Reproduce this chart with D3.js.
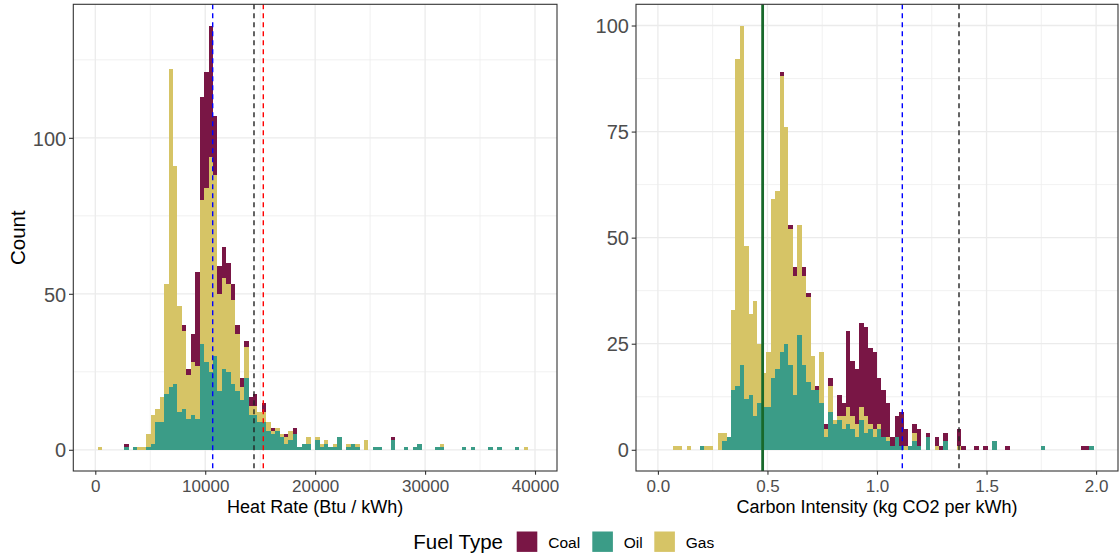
<!DOCTYPE html>
<html>
<head>
<meta charset="utf-8">
<script src="https://cdn.jsdelivr.net/npm/d3@7"></script>
<style>
  body { margin: 0; background: #fff; }
  svg text { font-family: "Liberation Sans", Arial, sans-serif; }
</style>
</head>
<body>
<svg id="chart" width="1119" height="558"></svg>
<script>
// ---------- data: counts per bin ----------
var fuels = ["Coal", "Oil", "Gas"];
var stackOrder = ["Oil", "Gas", "Coal"]; // bottom to top

// Heat rate: 100 bins over 0..40000 (bin k centred at k * 40000 / 99)
var hrLimits = [0, 40000];
var hrCoal = [
  0,0,0,0,0,0,0,1,0,0,
  0,0,0,0,0,0,0,0,0,0,
  2,2,9,30,33,37,42,19,9,10,
  7,5,3,3,2,3,4,0,3,0,
  1,0,0,1,0,2,0,0,0,0,
  0,0,0,0,0,0,0,0,0,0,
  0,0,0,0,0,0,0,1,0,0,
  0,0,0,0,0,0,0,0,0,0,
  0,0,0,0,0,0,0,0,0,0,
  0,0,0,0,0,0,0,0,0,0];
var hrOil = [
  0,0,0,0,0,0,0,1,0,1,
  0,0,1,2,9,9,18,20,21,12,
  13,10,11,10,34,28,25,30,19,26,
  25,21,19,16,23,11,11,9,9,6,
  5,6,4,2,3,5,1,2,2,0,
  3,1,2,1,1,4,0,1,2,1,
  0,0,0,1,1,0,0,3,0,0,
  1,0,1,2,0,0,0,1,1,0,
  0,0,0,1,0,1,0,0,0,1,
  0,1,0,0,0,1,0,0,0,0];
var hrGas = [
  0,1,0,0,0,0,0,0,0,0,
  1,1,4,9,4,8,35,102,70,34,
  25,14,17,17,46,56,69,58,31,29,
  28,27,18,4,10,3,3,3,3,3,
  1,1,1,2,3,0,0,0,2,0,
  1,1,1,0,1,0,0,1,0,1,
  0,3,0,0,0,0,0,0,0,0,
  0,0,0,0,0,0,0,0,1,0,
  0,0,0,0,0,0,0,0,0,0,
  0,0,0,0,0,0,0,1,0,0];
var hrTicks = [0, 10000, 20000, 30000, 40000];
var hrCountTicks = [0, 50, 100];
var hrRefValues = [10680, 14437, 15283];

// Carbon intensity: 100 bins over 0..2 (bin k centred at k * 2 / 99)
var ciLimits = [0, 2];
var ciCoal = [
  0,0,0,0,0,0,0,0,0,0,
  0,0,0,0,0,0,0,0,0,0,
  0,0,0,0,0,0,0,0,1,0,
  1,2,0,2,1,0,1,0,1,2,
  0,5,3,18,13,13,20,21,18,18,
  11,11,8,2,5,8,4,0,2,4,
  0,1,0,2,1,2,0,0,4,1,
  0,0,1,0,1,0,0,0,0,1,
  0,0,0,0,0,0,0,0,0,0,
  0,0,0,0,0,0,1,1,0,0];
var ciOil = [
  0,0,0,0,0,0,0,0,0,0,
  1,0,0,0,0,2,3,14,15,20,
  12,13,8,11,10,10,17,19,23,25,
  20,13,27,20,16,14,14,11,3,9,
  6,7,5,6,5,3,7,4,5,3,
  5,3,2,1,3,1,0,1,2,1,
  0,3,0,0,0,2,0,0,0,0,
  0,0,0,0,0,0,2,0,0,0,
  0,0,0,0,0,0,0,1,0,0,
  0,0,0,0,0,0,0,0,1,0];
var ciGas = [
  0,0,0,0,1,1,0,1,0,0,
  0,1,1,0,4,2,0,19,77,80,
  36,19,27,14,8,13,42,42,65,51,
  32,28,26,21,20,8,0,12,2,6,
  1,1,3,4,3,3,3,4,1,2,
  1,0,1,0,0,0,1,0,2,0,
  0,0,0,1,0,0,0,0,1,0,
  0,0,0,0,0,0,0,0,0,0,
  0,0,0,0,0,0,0,0,0,0,
  0,0,0,0,0,0,0,0,0,0];
var ciTicks = [0, 0.5, 1, 1.5, 2];
var ciCountTicks = [0, 25, 50, 75, 100];
var ciRefValues = [0.478, 1.1155, 1.3743];

// ---------- styles ----------
var fuelColor = d3.scaleOrdinal().domain(fuels).range(["#791645", "#3b9c87", "#d6c466"]);
var dashedRef = [
  {color: "#0000ff", width: 1.4, dash: "5,4"},
  {color: "#222222", width: 1.4, dash: "5,4"},
  {color: "#ff0000", width: 1.4, dash: "5,4"}
];
var ciRefStyle = [
  {color: "#18692b", width: 2.8, dash: null},
  {color: "#0000ff", width: 1.4, dash: "5,4"},
  {color: "#222222", width: 1.4, dash: "5,4"}
];

var svg = d3.select("#chart");
var panelTop = 4.3, panelBottom = 471;

function drawPanel(cfg) {
  var n = cfg.coal.length;
  var span = cfg.limits[1] - cfg.limits[0];
  var bw = span / (n - 1);
  var rows = cfg.coal.map(function(d, k) {
    return {center: cfg.limits[0] + k * bw, Coal: cfg.coal[k], Oil: cfg.oil[k], Gas: cfg.gas[k]};
  });
  var maxTotal = d3.max(rows, function(r) { return r.Coal + r.Oil + r.Gas; });

  var x = d3.scaleLinear()
    .domain([cfg.limits[0] - 0.05 * span, cfg.limits[1] + 0.05 * span])
    .range([cfg.left, cfg.right]);
  var y = d3.scaleLinear()
    .domain([-0.05 * maxTotal, 1.05 * maxTotal])
    .range([panelBottom, panelTop]);

  var g = svg.append("g");

  // grid: minor lines half way between majors
  var xStep = cfg.xTicks[1] - cfg.xTicks[0];
  var xMinor = cfg.xTicks.slice(0, -1).map(function(t) { return t + xStep / 2; });
  var yStep = cfg.yTicks[1] - cfg.yTicks[0];
  var yMinor = cfg.yTicks.map(function(t) { return t + yStep / 2; })
    .filter(function(t) { return t < y.domain()[1]; });

  g.selectAll(".xminor").data(xMinor).enter().append("line")
    .attr("x1", x).attr("x2", x).attr("y1", panelTop).attr("y2", panelBottom)
    .attr("stroke", "#ededed").attr("stroke-width", 0.8);
  g.selectAll(".yminor").data(yMinor).enter().append("line")
    .attr("y1", y).attr("y2", y).attr("x1", cfg.left).attr("x2", cfg.right)
    .attr("stroke", "#ededed").attr("stroke-width", 0.8);
  g.selectAll(".xmajor").data(cfg.xTicks).enter().append("line")
    .attr("x1", x).attr("x2", x).attr("y1", panelTop).attr("y2", panelBottom)
    .attr("stroke", "#ebebeb").attr("stroke-width", 1.3);
  g.selectAll(".ymajor").data(cfg.yTicks).enter().append("line")
    .attr("y1", y).attr("y2", y).attr("x1", cfg.left).attr("x2", cfg.right)
    .attr("stroke", "#ebebeb").attr("stroke-width", 1.3);

  // stacked bars
  var series = d3.stack().keys(stackOrder)(rows);
  g.selectAll(".layer").data(series).enter().append("g")
    .attr("fill", function(s) { return fuelColor(s.key); })
    .selectAll("rect")
    .data(function(s) { return s.filter(function(d) { return d[1] > d[0]; }); })
    .enter().append("rect")
    .attr("shape-rendering", "crispEdges")
    .attr("x", function(d) { return x(d.data.center - bw / 2); })
    .attr("width", function(d) { return x(d.data.center + bw / 2) - x(d.data.center - bw / 2); })
    .attr("y", function(d) { return y(d[1]); })
    .attr("height", function(d) { return y(d[0]) - y(d[1]); });

  // reference lines
  g.selectAll(".ref").data(cfg.refs).enter().append("line")
    .attr("x1", function(d) { return x(d.value); })
    .attr("x2", function(d) { return x(d.value); })
    .attr("y1", panelTop).attr("y2", panelBottom)
    .attr("stroke", function(d) { return d.style.color; })
    .attr("stroke-width", function(d) { return d.style.width; })
    .attr("stroke-dasharray", function(d) { return d.style.dash; });

  // panel border
  g.append("rect")
    .attr("x", cfg.left).attr("y", panelTop)
    .attr("width", cfg.right - cfg.left).attr("height", panelBottom - panelTop)
    .attr("fill", "none").attr("stroke", "#333333").attr("stroke-width", 1.1);

  // axes
  var xAxis = g.append("g").attr("transform", "translate(0," + panelBottom + ")")
    .call(d3.axisBottom(x).tickValues(cfg.xTicks).tickFormat(cfg.xFormat)
      .tickSize(3.7).tickPadding(4.9));
  var yAxis = g.append("g").attr("transform", "translate(" + cfg.left + ",0)")
    .call(d3.axisLeft(y).tickValues(cfg.yTicks).tickSize(4.3).tickPadding(2.8));
  [xAxis, yAxis].forEach(function(a) {
    a.select(".domain").remove();
    a.selectAll(".tick line").attr("stroke", "#333333").attr("stroke-width", 1.1);
    a.selectAll(".tick text").attr("fill", "#4d4d4d");
  });
  xAxis.selectAll(".tick text").style("font-size", "17px");
  yAxis.selectAll(".tick text").style("font-size", "20px").attr("dy", "0.36em");

  g.append("text")
    .attr("x", (cfg.left + cfg.right) / 2).attr("y", 513)
    .attr("text-anchor", "middle").style("font-size", "18px").attr("fill", "#000")
    .text(cfg.xTitle);
  if (cfg.yTitle) {
    g.append("text")
      .attr("transform", "translate(24.5," + (panelTop + panelBottom) / 2 + ") rotate(-90)")
      .attr("text-anchor", "middle").style("font-size", "20.5px").attr("fill", "#000")
      .text(cfg.yTitle);
  }
}

drawPanel({
  left: 73.3, right: 557, limits: hrLimits,
  coal: hrCoal, oil: hrOil, gas: hrGas,
  xTicks: hrTicks, yTicks: hrCountTicks, xFormat: d3.format("d"),
  refs: hrRefValues.map(function(v, i) { return {value: v, style: dashedRef[i]}; }),
  xTitle: "Heat Rate (Btu / kWh)", yTitle: "Count"
});

drawPanel({
  left: 636, right: 1118, limits: ciLimits,
  coal: ciCoal, oil: ciOil, gas: ciGas,
  xTicks: ciTicks, yTicks: ciCountTicks, xFormat: d3.format(".1f"),
  refs: ciRefValues.map(function(v, i) { return {value: v, style: ciRefStyle[i]}; }),
  xTitle: "Carbon Intensity (kg CO2 per kWh)", yTitle: null
});

// legend
var legend = svg.append("g");
legend.append("text")
  .attr("x", 413.3).attr("y", 548.5)
  .style("font-size", "20.5px").attr("fill", "#000")
  .text("Fuel Type");
var keyX = [516.7, 592.3, 654.3];
var keys = legend.selectAll(".key").data(fuels).enter().append("g")
  .attr("transform", function(d, i) { return "translate(" + keyX[i] + ",531.5)"; });
keys.append("rect")
  .attr("width", 20.6).attr("height", 20.4)
  .attr("fill", function(d) { return fuelColor(d); });
keys.append("text")
  .attr("x", 31.5).attr("y", 16)
  .style("font-size", "15.5px").attr("fill", "#000")
  .text(function(d) { return d; });
</script>
</body>
</html>
